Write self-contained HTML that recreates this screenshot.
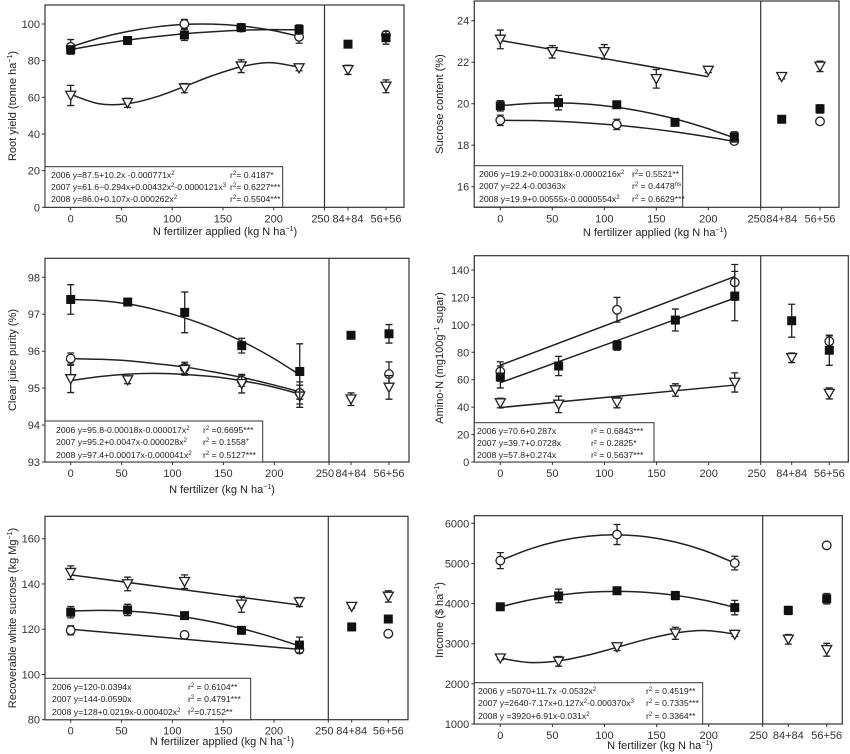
<!DOCTYPE html>
<html><head><meta charset="utf-8">
<style>
html,body{margin:0;padding:0;background:#fff;}
svg{display:block;font-family:"Liberation Sans",Arial,sans-serif;}
.tk{font-size:11px;fill:#333;}
.ttl{font-size:11px;fill:#222;}
.lg{font-size:8.7px;fill:#222;}
</style></head>
<body>
<svg id="chart" width="850" height="754" viewBox="0 0 850 754" xmlns="http://www.w3.org/2000/svg">
<g id="layer"></g>
<g>
<rect x="45" y="166.7" width="237.7" height="40.6" fill="#fff" stroke="#333" stroke-width="1"/>
<text class="lg" x="51" y="178">2006 y=87.5+10.2x -0.000771x<tspan dy="-3" font-size="6">2</tspan></text>
<text class="lg" x="230" y="178">r<tspan dy="-3" font-size="6">2</tspan><tspan dy="3">= 0.4187*</tspan></text>
<text class="lg" x="51" y="190">2007 y=61.6−0.294x+0.00432x<tspan dy="-3" font-size="6">2</tspan><tspan dy="3">-0.0000121x</tspan><tspan dy="-3" font-size="6">3</tspan></text>
<text class="lg" x="230" y="190">r<tspan dy="-3" font-size="6">2</tspan><tspan dy="3">= 0.6227***</tspan></text>
<text class="lg" x="51" y="202">2008 y=86.0+0.107x-0.000262x<tspan dy="-3" font-size="6">2</tspan></text>
<text class="lg" x="230" y="202">r<tspan dy="-3" font-size="6">2</tspan><tspan dy="3">= 0.5504***</tspan></text>
</g>
<g>
<rect x="474.3" y="165.7" width="208.4" height="41.3" fill="#fff" stroke="#333" stroke-width="1"/>
<text class="lg" x="479" y="177">2006  y=19.2+0.000318x-0.0000216x<tspan dy="-3" font-size="6">2</tspan></text>
<text class="lg" x="632" y="177">r<tspan dy="-3" font-size="6">2</tspan><tspan dy="3">= 0.5521**</tspan></text>
<text class="lg" x="479" y="189">2007  y=22.4-0.00363x</text>
<text class="lg" x="632" y="189">r<tspan dy="-3" font-size="6">2</tspan><tspan dy="3"> = 0.4478</tspan><tspan dy="-3" font-size="6">ns</tspan></text>
<text class="lg" x="479" y="202">2008  y=19.9+0.00555x-0.0000554x<tspan dy="-3" font-size="6">2</tspan></text>
<text class="lg" x="632" y="202">r<tspan dy="-3" font-size="6">2</tspan><tspan dy="3"> = 0.6629***</tspan></text>
</g>
<g>
<rect x="45" y="421" width="217.7" height="41" fill="#fff" stroke="#333" stroke-width="1"/>
<text class="lg" x="56" y="433">2006  y=95.8-0.00018x-0.000017x<tspan dy="-3" font-size="6">2</tspan></text>
<text class="lg" x="203" y="433">r<tspan dy="-3" font-size="6">2</tspan><tspan dy="3"> =0.6695***</tspan></text>
<text class="lg" x="56" y="445">2007    y=95.2+0.0047x-0.000028x<tspan dy="-3" font-size="6">2</tspan></text>
<text class="lg" x="203" y="445">r<tspan dy="-3" font-size="6">2</tspan><tspan dy="3"> = 0.1558</tspan><tspan dy="-3" font-size="6">+</tspan></text>
<text class="lg" x="56" y="458">2008  y=97.4+0.00017x-0.000041x<tspan dy="-3" font-size="6">2</tspan></text>
<text class="lg" x="203" y="458">r<tspan dy="-3" font-size="6">2</tspan><tspan dy="3"> = 0.5127***</tspan></text>
</g>
<g>
<rect x="474.3" y="422.7" width="179.7" height="39.3" fill="#fff" stroke="#333" stroke-width="1"/>
<text class="lg" x="477" y="434">2006  y=70.6+0.287x</text>
<text class="lg" x="591" y="434">r² = 0.6843***</text>
<text class="lg" x="477" y="446">2007  y=39.7+0.0728x</text>
<text class="lg" x="591" y="446">r² = 0.2825*</text>
<text class="lg" x="477" y="458">2008  y=57.8+0.274x</text>
<text class="lg" x="591" y="458">r² = 0.5637***</text>
</g>
<g>
<rect x="45" y="678.3" width="205.7" height="41.4" fill="#fff" stroke="#333" stroke-width="1"/>
<text class="lg" x="52" y="690">2006  y=120-0.0394x</text>
<text class="lg" x="188" y="690">r<tspan dy="-3" font-size="6">2</tspan><tspan dy="3"> = 0.6104**</tspan></text>
<text class="lg" x="52" y="702">2007  y=144-0.0590x</text>
<text class="lg" x="188" y="702">r<tspan dy="-3" font-size="6">2</tspan><tspan dy="3">  = 0.4791***</tspan></text>
<text class="lg" x="52" y="715">2008  y=128+0.0219x-0.000402x<tspan dy="-3" font-size="6">2</tspan></text>
<text class="lg" x="188" y="715">r<tspan dy="-3" font-size="6">2</tspan><tspan dy="3">=0.7152**</tspan></text>
</g>
<g>
<rect x="474.3" y="682.7" width="228.4" height="41.3" fill="#fff" stroke="#333" stroke-width="1"/>
<text class="lg" x="478" y="694">2006 y =5070+11.7x -0.0532x<tspan dy="-3" font-size="6">2</tspan></text>
<text class="lg" x="646" y="694">r<tspan dy="-3" font-size="6">2</tspan><tspan dy="3"> = 0.4519**</tspan></text>
<text class="lg" x="478" y="706">2007 y=2640-7.17x+0.127x<tspan dy="-3" font-size="6">2</tspan><tspan dy="3">-0.000370x</tspan><tspan dy="-3" font-size="6">3</tspan></text>
<text class="lg" x="646" y="706">r<tspan dy="-3" font-size="6">2</tspan><tspan dy="3"> = 0.7335***</tspan></text>
<text class="lg" x="478" y="719">2008 y =3920+6.91x-0.031x<tspan dy="-3" font-size="6">2</tspan></text>
<text class="lg" x="646" y="719">r<tspan dy="-3" font-size="6">2</tspan><tspan dy="3"> = 0.3364**</tspan></text>
</g>
<text class="ttl" x="225" y="235" text-anchor="middle">N fertilizer applied (kg N ha<tspan dy="-4" font-size="7">−1</tspan><tspan dy="4">)</tspan></text>
<text class="ttl" x="655" y="236" text-anchor="middle">N fertilizer applied (kg N ha<tspan dy="-4" font-size="7">−1</tspan><tspan dy="4">)</tspan></text>
<text class="ttl" x="222" y="493" text-anchor="middle">N fertilizer (kg N ha<tspan dy="-4" font-size="7">−1</tspan><tspan dy="4">)</tspan></text>
<text class="ttl" x="222" y="745" text-anchor="middle">N fertilizer applied (kg N ha<tspan dy="-4" font-size="7">−1</tspan><tspan dy="4">)</tspan></text>
<text class="ttl" x="660" y="749" text-anchor="middle">N fertilizer (kg N ha<tspan dy="-4" font-size="7">−1</tspan><tspan dy="4">)</tspan></text>
<text class="ttl" transform="translate(16,106) rotate(-90)" text-anchor="middle">Root yield (tonne ha<tspan dy="-4" font-size="7">−1</tspan><tspan dy="4">)</tspan></text>
<text class="ttl" transform="translate(443,104) rotate(-90)" text-anchor="middle">Sucrose content (%)</text>
<text class="ttl" transform="translate(16,360) rotate(-90)" text-anchor="middle">Clear juice purity (%)</text>
<text class="ttl" transform="translate(443,358) rotate(-90)" text-anchor="middle">Amino-N (mg100g<tspan dy="-4" font-size="7">−1</tspan><tspan dy="4"> sugar)</tspan></text>
<text class="ttl" transform="translate(16,618) rotate(-90)" text-anchor="middle">Recoverable white sucrose (kg Mg<tspan dy="-4" font-size="7">−1</tspan><tspan dy="4">)</tspan></text>
<text class="ttl" transform="translate(443,620) rotate(-90)" text-anchor="middle">Income ($ ha<tspan dy="-4" font-size="7">−1</tspan><tspan dy="4">)</tspan></text>
</svg>
<script>
const nRates = [0, 56, 112, 168, 225];
const fitX = [0, 28, 56, 84, 112, 140, 168, 196, 225];
const lineX = [0, 225];
const splitLabels = ["84+84", "56+56"];

const r06X = [0, 112, 168, 225];
const r06Y = [87.5, 100, 98, 93];
const r06E = [4, 2.5, 1.5, 3.5];
const r06S = [null, 94];
const r06SE = [0, 2];
const r06F = [87.5, 92.3, 95.9, 98.4, 99.8, 99.9, 98.9, 96.8, 93.3];
const r07Y = [61, 57, 65, 77, 76];
const r07E = [5.5, 2.5, 2.5, 3.5, 1.5];
const r07S = [75, 66];
const r07SE = [2.5, 3.5];
const r07F = [61.6, 56.5, 56.5, 60.2, 65.9, 71.9, 76.7, 78.9, 76.4];
const r08Y = [86, 91, 94, 98, 97];
const r08E = [2, 1.5, 3, 1.5, 2.5];
const r08S = [89, 92.5];
const r08SE = [1.5, 3.5];
const r08F = [86, 88.8, 91.2, 93.1, 94.7, 95.8, 96.6, 96.9, 96.8];

const s06X = [0, 112, 225];
const s06Y = [19.2, 19.0, 18.2];
const s06E = [0.25, 0.25, 0.1];
const s06S = [null, 19.15];
const s06SE = [0, 0.1];
const s06F = [19.2, 19.19, 19.15, 19.07, 18.96, 18.82, 18.64, 18.43, 18.18];
const s07X = [0, 50, 100, 150, 200];
const s07Y = [23.1, 22.5, 22.5, 21.2, 21.6];
const s07E = [0.45, 0.3, 0.35, 0.45, 0.1];
const s07S = [21.3, 21.8];
const s07SE = [0.1, 0.25];
const s07FX = [0, 200];
const s07F = [23.05, 21.3];
const s08Y = [19.9, 20.05, 19.95, 19.1, 18.4];
const s08E = [0.25, 0.35, 0.15, 0.1, 0.25];
const s08S = [19.25, 19.75];
const s08SE = [0.15, 0.2];
const s08F = [19.9, 20.01, 20.04, 19.98, 19.83, 19.59, 19.27, 18.86, 18.35];

const p06X = [0, 112, 168, 225];
const p06Y = [95.8, 95.55, 95.2, 94.87];
const p06E = [0.15, 0.15, 0.15, 0.3];
const p06S = [null, 95.38];
const p06SE = [0, 0.33];
const p06F = [95.8, 95.78, 95.74, 95.66, 95.57, 95.44, 95.29, 95.11, 94.9];
const p07Y = [95.25, 95.22, 95.5, 95.12, 94.78];
const p07E = [0.37, 0.1, 0.15, 0.25, 0.3];
const p07S = [94.7, 95.02];
const p07SE = [0.17, 0.32];
const p07F = [95.2, 95.31, 95.38, 95.4, 95.37, 95.31, 95.2, 95.05, 94.84];
const p08Y = [97.4, 97.33, 97.05, 96.15, 95.45];
const p08E = [0.4, 0.07, 0.55, 0.2, 0.75];
const p08S = [96.43, 96.47];
const p08SE = [0.08, 0.25];
const p08F = [97.4, 97.37, 97.28, 97.12, 96.9, 96.62, 96.27, 95.86, 95.36];

const a06X = [0, 112, 225];
const a06Y = [66, 111, 131];
const a06E = [7, 9, 13];
const a06S = [null, 88];
const a06SE = [0, 4];
const a06F = [70.6, 135.2];
const a07Y = [43, 42, 43.5, 52.5, 58];
const a07E = [3.5, 6, 4, 4.5, 7];
const a07S = [76, 50];
const a07SE = [3.5, 4];
const a07F = [39.7, 56.1];
const a08Y = [62, 70, 85, 103.5, 121];
const a08E = [8, 7, 3.5, 8, 18];
const a08S = [103, 81.5];
const a08SE = [12, 11];
const a08F = [57.8, 119.5];

const w06X = [0, 112, 225];
const w06Y = [119.5, 117.5, 111];
const w06E = [2, 1, 1];
const w06S = [null, 118];
const w06SE = [0, 1.2];
const w06F = [120, 111.1];
const w07Y = [145, 140, 141, 131, 132];
const w07E = [3, 3, 3, 3.5, 2];
const w07S = [130, 134.5];
const w07SE = [0.7, 2.5];
const w07F = [144, 130.7];
const w08Y = [127.5, 128.5, 126, 119.5, 113];
const w08E = [2.5, 2.5, 0.8, 1, 3.5];
const w08S = [121, 124.5];
const w08SE = [1.5, 1];
const w08F = [128, 128.3, 128, 127, 125.4, 123.2, 120.3, 116.8, 112.6];

const i06X = [0, 112, 225];
const i06Y = [5070, 5720, 5010];
const i06E = [200, 250, 170];
const i06S = [null, 5450];
const i06SE = [0, 70];
const i06F = [5070, 5356, 5558, 5677, 5713, 5665, 5534, 5319, 5009];
const i07Y = [2640, 2560, 2920, 3260, 3230];
const i07E = [40, 120, 90, 150, 50];
const i07S = [3110, 2850];
const i07SE = [120, 160];
const i07F = [2640, 2531, 2572, 2715, 2910, 3110, 3265, 3328, 3241];
const i08Y = [3920, 4190, 4320, 4200, 3900];
const i08E = [30, 170, 80, 100, 180];
const i08S = [3830, 4120];
const i08SE = [100, 130];
const i08F = [3920, 4089, 4210, 4282, 4305, 4280, 4206, 4083, 3906];

const xTickVals = [0, 50, 100, 150, 200, 250];
const rootTicks = [0, 20, 40, 60, 80, 100];
const sucTicks = [16, 18, 20, 22, 24];
const purTicks = [93, 94, 95, 96, 97, 98];
const aminoTicks = [0, 20, 40, 60, 80, 100, 120, 140];
const rwsTicks = [80, 100, 120, 140, 160];
const incTicks = [1000, 2000, 3000, 4000, 5000, 6000];

const NS = "http://www.w3.org/2000/svg";
const layer = document.getElementById("layer");
function mk(tag, attrs, parent) {
  const e = document.createElementNS(NS, tag);
  for (const k in attrs) e.setAttribute(k, attrs[k]);
  (parent || layer).appendChild(e);
  return e;
}

const panels = [
  {id:"root-yield", L:45, R:404, T:5, B:207.3, div:324.5, x0:70.7, x200:273.7, v1:100, p1:24, v2:0, p2:207.3, ticks:rootTicks, sx:[348,386],
   series:[
    {n:"2006", m:"ci", xs:r06X, ys:r06Y, es:r06E, s:r06S, se:r06SE, fx:fitX, f:r06F},
    {n:"2007", m:"tri", xs:nRates, ys:r07Y, es:r07E, s:r07S, se:r07SE, fx:fitX, f:r07F},
    {n:"2008", m:"sq", xs:nRates, ys:r08Y, es:r08E, s:r08S, se:r08SE, fx:fitX, f:r08F}]},
  {id:"sucrose", L:474.3, R:839, T:1, B:207.3, div:760.7, x0:500.3, x200:708.3, v1:24, p1:20.7, v2:16, p2:186.7, ticks:sucTicks, sx:[781.7,820],
   series:[
    {n:"2006", m:"ci", xs:s06X, ys:s06Y, es:s06E, s:s06S, se:s06SE, fx:fitX, f:s06F},
    {n:"2007", m:"tri", xs:s07X, ys:s07Y, es:s07E, s:s07S, se:s07SE, fx:s07FX, f:s07F},
    {n:"2008", m:"sq", xs:nRates, ys:s08Y, es:s08E, s:s08S, se:s08SE, fx:fitX, f:s08F}]},
  {id:"purity", L:45, R:409, T:258.3, B:462, div:329, x0:70.7, x200:274.3, v1:98, p1:277.3, v2:93, p2:462, ticks:purTicks, sx:[351,389],
   series:[
    {n:"2006", m:"ci", xs:p06X, ys:p06Y, es:p06E, s:p06S, se:p06SE, fx:fitX, f:p06F},
    {n:"2007", m:"tri", xs:nRates, ys:p07Y, es:p07E, s:p07S, se:p07SE, fx:fitX, f:p07F},
    {n:"2008", m:"sq", xs:nRates, ys:p08Y, es:p08E, s:p08S, se:p08SE, fx:fitX, f:p08F}]},
  {id:"amino-n", L:474.3, R:848.3, T:255.7, B:462, div:760.7, x0:500.3, x200:708.7, v1:140, p1:270, v2:0, p2:462, ticks:aminoTicks, sx:[791.7,829.3],
   series:[
    {n:"2006", m:"ci", xs:a06X, ys:a06Y, es:a06E, s:a06S, se:a06SE, fx:lineX, f:a06F},
    {n:"2007", m:"tri", xs:nRates, ys:a07Y, es:a07E, s:a07S, se:a07SE, fx:lineX, f:a07F},
    {n:"2008", m:"sq", xs:nRates, ys:a08Y, es:a08E, s:a08S, se:a08SE, fx:lineX, f:a08F}]},
  {id:"recoverable-sucrose", L:45, R:408, T:516.3, B:719.7, div:328.3, x0:70.7, x200:274, v1:160, p1:538.7, v2:80, p2:719.7, ticks:rwsTicks, sx:[351.7,388.3],
   series:[
    {n:"2006", m:"ci", xs:w06X, ys:w06Y, es:w06E, s:w06S, se:w06SE, fx:lineX, f:w06F},
    {n:"2007", m:"tri", xs:nRates, ys:w07Y, es:w07E, s:w07S, se:w07SE, fx:lineX, f:w07F},
    {n:"2008", m:"sq", xs:nRates, ys:w08Y, es:w08E, s:w08S, se:w08SE, fx:fitX, f:w08F}]},
  {id:"income", L:474.3, R:842.3, T:515.7, B:724, div:762.7, x0:500.3, x200:708.7, v1:6000, p1:523.3, v2:1000, p2:724, ticks:incTicks, sx:[788.3,826.7],
   series:[
    {n:"2006", m:"ci", xs:i06X, ys:i06Y, es:i06E, s:i06S, se:i06SE, fx:fitX, f:i06F},
    {n:"2007", m:"tri", xs:nRates, ys:i07Y, es:i07E, s:i07S, se:i07SE, fx:fitX, f:i07F},
    {n:"2008", m:"sq", xs:nRates, ys:i08Y, es:i08E, s:i08S, se:i08SE, fx:fitX, f:i08F}]}
];

function smoothPath(pts) {
  if (pts.length === 2) return "M" + pts[0][0] + "," + pts[0][1] + "L" + pts[1][0] + "," + pts[1][1];
  let d = "M" + pts[0][0] + "," + pts[0][1];
  for (let i = 0; i < pts.length - 1; i++) {
    const p0 = pts[i-1] || pts[i], p1 = pts[i], p2 = pts[i+1], p3 = pts[i+2] || p2;
    const c1 = [p1[0] + (p2[0]-p0[0])/6, p1[1] + (p2[1]-p0[1])/6];
    const c2 = [p2[0] - (p3[0]-p1[0])/6, p2[1] - (p3[1]-p1[1])/6];
    d += "C" + c1[0] + "," + c1[1] + " " + c2[0] + "," + c2[1] + " " + p2[0] + "," + p2[1];
  }
  return d;
}

function marker(g, m, x, y) {
  let e;
  if (m === "sq") e = mk("rect", {x:x-4, y:y-4, width:8, height:8, fill:"#111", stroke:"#111"}, g);
  else if (m === "ci") e = mk("circle", {cx:x, cy:y, r:4.3, fill:"#fff", stroke:"#222", "stroke-width":1.3}, g);
  else e = mk("path", {d:"M"+(x-5)+","+(y-4.2)+"L"+(x+5)+","+(y-4.2)+"L"+x+","+(y+4.8)+"Z", fill:"#fff", stroke:"#222", "stroke-width":1.3}, g);
  return e;
}

function errBar(g, x, yT, yB) {
  const eb = mk("path", {d:"M"+x+","+yT+"V"+yB+"M"+(x-3.5)+","+yT+"H"+(x+3.5)+"M"+(x-3.5)+","+yB+"H"+(x+3.5), stroke:"#222", "stroke-width":1.3, fill:"none"}, g);
  return eb;
}

panels.forEach(P => {
  const g = mk("g", {});
  
  
  const xs = v => P.x0 + (P.x200 - P.x0) * v / 200;
  const ys = v => P.p2 + (P.p1 - P.p2) * (v - P.v2) / (P.v1 - P.v2);
  const box = mk("rect", {x:P.L, y:P.T, width:P.R-P.L, height:P.B-P.T, fill:"none", stroke:"#333", "stroke-width":1.2}, g);
  
  
  const dv = mk("line", {x1:P.div, x2:P.div, y1:P.T, y2:P.B, stroke:"#333", "stroke-width":1.2}, g);
  
  
  xTickVals.forEach(v => {
    const x = v === 250 ? P.div - 4 : xs(v);
    const tx = v === 250 ? P.div : xs(v);
    const t = mk("line", {x1:tx, x2:tx, y1:P.B, y2:P.B+3, stroke:"#333"}, g);
    
    
    const lb = mk("text", {x:x, y:P.B+15, class:"tk", "text-anchor":"middle"}, g);
    lb.textContent = v;
    
    
  });
  splitLabels.forEach((s, i) => {
    const t = mk("line", {x1:P.sx[i], x2:P.sx[i], y1:P.B, y2:P.B+3, stroke:"#333"}, g);
    
    
    const lb = mk("text", {x:P.sx[i], y:P.B+15, class:"tk", "text-anchor":"middle"}, g);
    lb.textContent = s;
    
    
  });
  P.ticks.forEach(v => {
    const y = ys(v);
    const t = mk("line", {x1:P.L-3, x2:P.L, y1:y, y2:y, stroke:"#333"}, g);
    
    
    const lb = mk("text", {x:P.L-5, y:y+4, class:"tk", "text-anchor":"end"}, g);
    lb.textContent = v;
    
    
  });
  P.series.forEach(S => {
    const pts = S.fx.map((v, i) => [xs(v), ys(S.f[i])]);
    const fl = mk("path", {d:smoothPath(pts), fill:"none", stroke:"#222", "stroke-width":1.5}, g);
    
    
  });
  P.series.forEach(S => {
    const sg = mk("g", {}, g);
    
    
    S.xs.forEach((v, i) => {
      const x = xs(v);
      const eb = errBar(sg, x, ys(S.ys[i] + S.es[i]), ys(S.ys[i] - S.es[i]));
      
      
      const mm = marker(sg, S.m, x, ys(S.ys[i]));
      
      
    });
    S.s.forEach((v, i) => {
      if (v === null) return;
      const x = P.sx[i];
      const eb = errBar(sg, x, ys(v + S.se[i]), ys(v - S.se[i]));
      
      
      const mm = marker(sg, S.m, x, ys(v));
      
      
    });
  });
});
</script>
</body></html>
